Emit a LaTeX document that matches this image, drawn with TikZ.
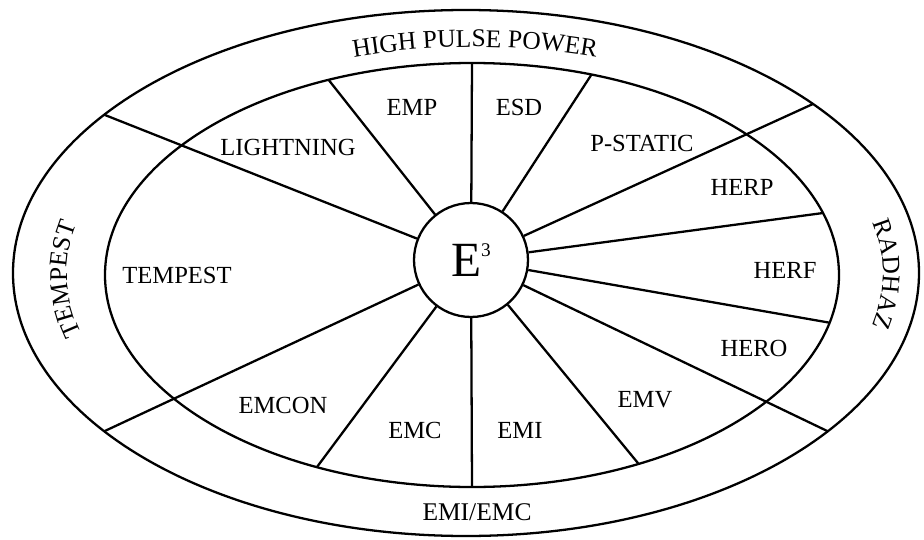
\documentclass[tikz,border=0pt]{standalone}
\usepackage{fontspec}
\setmainfont{Liberation Serif}
\usepackage{tikz}
\usetikzlibrary{calc, positioning, decorations.text}
\newcommand{\ringfont}{\fontsize{14.5}{16}\selectfont}
\tikzset{sector/.style={font=\fontsize{14}{16}\selectfont},
	ringtext/.style={decoration={text along path, text align=center, text={|\ringfont|#1}}, decorate}
}
\begin{document}
\begin{tikzpicture}[x=0.02cm, y=0.02cm, line width=1.3pt]
\useasboundingbox (0,0) rectangle (924,539);

            \coordinate (co) at (466,266);
            \coordinate (ci) at (472,264);
            \coordinate (cr) at (475,265);
            \draw (co) ellipse (453 and 263);
            \draw (ci) ellipse (367 and 212);

            \node[circle, draw, fill=white, minimum size=2.28cm, inner sep=0pt, font=\fontsize{28}{30}\selectfont] (e3) at (471,279) {E\raisebox{0.42em}{\fontsize{11}{11}\selectfont 3}};

% spokes ending on the inner ellipse
            \foreach \a [count=\i] in {90,71,17,-13,-63,-90,-115,113}{
              \coordinate (sp\i) at ($(ci)+(\a:367 and 212)$);
              \draw (e3) -- (sp\i);
            }
% spokes running to the outer ring
            \foreach \a [count=\i] in {40,-37,-143,143}{
              \coordinate (lp\i) at ($(co)+(\a:453 and 263)$);
              \draw (e3) -- (lp\i);
            }

 \node[sector] (lightning) at (288,392) {LIGHTNING};
 \node[sector] (emp) at (412,432) {EMP};
 \node[sector] (esd) at (519,432) {ESD};
 \node[sector] (pstatic) at (642,396) {P-STATIC};
 \node[sector] (herp) at (742,352) {HERP};
 \node[sector] (herf) at (785,269) {HERF};
 \node[sector] (hero) at (754,191) {HERO};
 \node[sector] (emv) at (645,139) {EMV};
 \node[sector] (emi) at (520,109) {EMI};
 \node[sector] (emc) at (415,109) {EMC};
 \node[sector] (emcon) at (283,134) {EMCON};
 \node[sector] (tempest) at (177,264) {TEMPEST};

% outer ring
            \path[ringtext={HIGH PULSE POWER}] ($(cr)+(140:408 and 227)$) arc[start angle=140, end angle=40, x radius=408, y radius=227];
            \path[ringtext={RADHAZ}] ($(cr)+(30:408 and 227)$) arc[start angle=30, end angle=-30, x radius=408, y radius=227];
            \path[ringtext={TEMPEST}] ($(cr)+(212:408 and 227)$) arc[start angle=212, end angle=150, x radius=408, y radius=227];
 \node[font=\ringfont] (emiemc) at (477,27) {EMI/EMC};
        \end{tikzpicture}
\end{document}
